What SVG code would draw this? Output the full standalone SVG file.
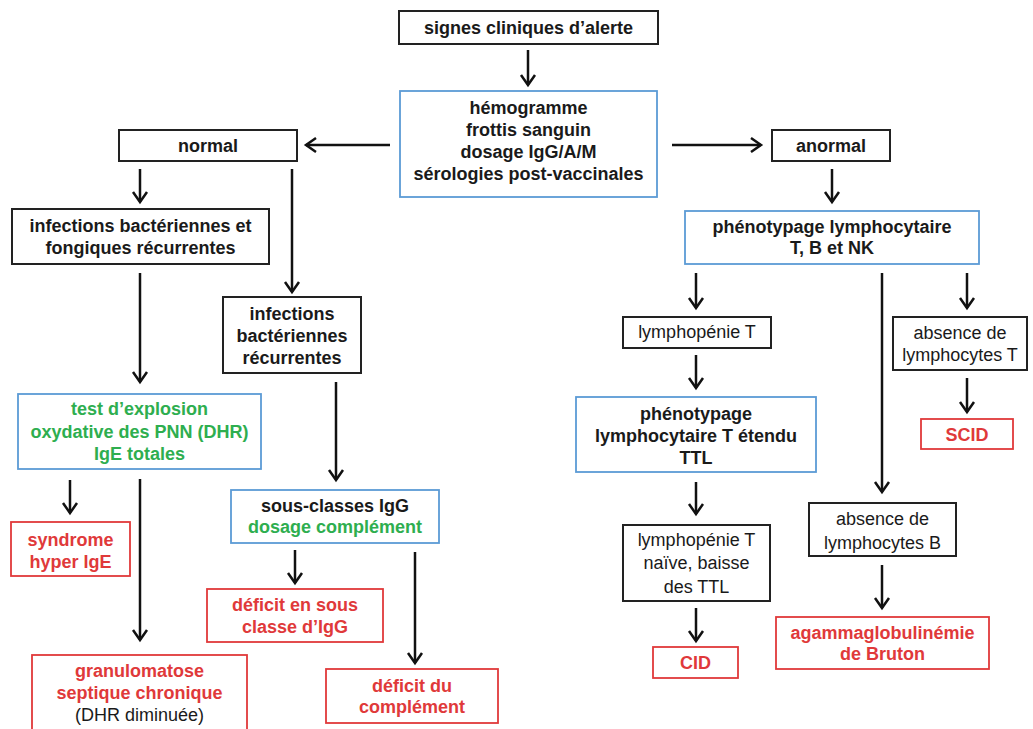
<svg xmlns="http://www.w3.org/2000/svg" width="1033" height="729" viewBox="0 0 1033 729">
<style>
.bk{fill:#fff;stroke:#222;stroke-width:2}
.bl{fill:#fff;stroke:#5b9bd5;stroke-width:1.8}
.rd{fill:#fff;stroke:#e0393a;stroke-width:1.8}
text{font-family:"Liberation Sans",Arial,sans-serif;font-size:18px;text-anchor:middle;fill:#1a1a1a}
.b{font-weight:bold}
.r{fill:#e0393a;font-weight:bold}
.g{fill:#2eae4f;font-weight:bold}
.c line{stroke:#111;stroke-width:2.5;marker-end:url(#ah)}
</style>
<defs>
<marker id="ah" markerUnits="userSpaceOnUse" markerWidth="20" markerHeight="20" refX="0" refY="0" viewBox="-12 -10 14 20" orient="auto" overflow="visible">
<path d="M-10,-7 L0,0 L-10,7" fill="none" stroke="#111" stroke-width="2.5"/>
</marker>
</defs>
<rect width="1033" height="729" fill="#fff"/>
<g class="c" id="connectors">
<line x1="528" y1="50" x2="528" y2="85"/>
<line x1="390" y1="145" x2="306" y2="145"/>
<line x1="672" y1="145" x2="761" y2="145"/>
<line x1="140" y1="169" x2="140" y2="202"/>
<line x1="292" y1="169" x2="292" y2="292"/>
<line x1="140" y1="273" x2="140" y2="382"/>
<line x1="336" y1="382" x2="336" y2="480"/>
<line x1="70" y1="480" x2="70" y2="513"/>
<line x1="140" y1="479" x2="140" y2="640"/>
<line x1="295" y1="550" x2="295" y2="583"/>
<line x1="415" y1="552" x2="415" y2="663"/>
<line x1="832" y1="169" x2="832" y2="202"/>
<line x1="696" y1="273" x2="696" y2="308"/>
<line x1="882" y1="273" x2="882" y2="492"/>
<line x1="967" y1="273" x2="967" y2="308"/>
<line x1="696" y1="355" x2="696" y2="388"/>
<line x1="696" y1="482" x2="696" y2="514"/>
<line x1="696" y1="608" x2="696" y2="641"/>
<line x1="967" y1="378" x2="967" y2="412"/>
<line x1="882" y1="565" x2="882" y2="608"/>
</g>
<g id="n-signes"><rect class="bk" x="399" y="11" width="259" height="33"/><text class="b" x="528.5" y="34">signes cliniques d’alerte</text></g>
<g id="n-hemogramme"><rect class="bl" x="400" y="91" width="257" height="106"/>
<text class="b" x="528.5" y="114">hémogramme</text><text class="b" x="528.5" y="136">frottis sanguin</text><text class="b" x="528.5" y="158">dosage IgG/A/M</text><text class="b" x="528.5" y="180">sérologies post-vaccinales</text></g>
<g id="n-normal"><rect class="bk" x="119" y="130" width="178" height="31"/><text class="b" x="208" y="152">normal</text></g>
<g id="n-anormal"><rect class="bk" x="772" y="130" width="118" height="31"/><text class="b" x="831" y="152">anormal</text></g>
<g id="n-infbf"><rect class="bk" x="12" y="209" width="257" height="55"/><text class="b" x="140.5" y="232">infections bactériennes et</text><text class="b" x="140.5" y="254">fongiques récurrentes</text></g>
<g id="n-infb"><rect class="bk" x="223" y="297" width="138" height="76"/><text class="b" x="292" y="320">infections</text><text class="b" x="292" y="342">bactériennes</text><text class="b" x="292" y="364">récurrentes</text></g>
<g id="n-test"><rect class="bl" x="18" y="394" width="243" height="75"/><text class="g" x="139.5" y="415">test d’explosion</text><text class="g" x="139.5" y="438">oxydative des PNN (DHR)</text><text class="g" x="139.5" y="460">IgE totales</text></g>
<g id="n-sousclasses"><rect class="bl" x="231" y="490" width="208" height="53"/><text class="b" x="335" y="512">sous-classes IgG</text><text class="g" x="335" y="533">dosage complément</text></g>
<g id="n-syndrome"><rect class="rd" x="11" y="522" width="119" height="54"/><text class="r" x="70.5" y="546">syndrome</text><text class="r" x="70.5" y="568">hyper IgE</text></g>
<g id="n-granulo"><rect class="rd" x="32" y="655" width="215" height="80"/><text class="r" x="139.5" y="677">granulomatose</text><text class="r" x="139.5" y="699">septique chronique</text><text x="139.5" y="721">(DHR diminuée)</text></g>
<g id="n-defsc"><rect class="rd" x="207" y="589" width="176" height="53"/><text class="r" x="295" y="611">déficit en sous</text><text class="r" x="295" y="633">classe d’IgG</text></g>
<g id="n-defcomp"><rect class="rd" x="326" y="669" width="172" height="54"/><text class="r" x="412" y="692">déficit du</text><text class="r" x="412" y="713">complément</text></g>
<g id="n-pheno"><rect class="bl" x="685" y="211" width="294" height="53"/><text class="b" x="832" y="233">phénotypage lymphocytaire</text><text class="b" x="832" y="254">T, B et NK</text></g>
<g id="n-lymphoT"><rect class="bk" x="623" y="317" width="148" height="31"/><text x="697" y="338">lymphopénie T</text></g>
<g id="n-phenoT"><rect class="bl" x="576" y="397" width="240" height="75"/><text class="b" x="696" y="420">phénotypage</text><text class="b" x="696" y="442">lymphocytaire T étendu</text><text class="b" x="696" y="464">TTL</text></g>
<g id="n-naive"><rect class="bk" x="623" y="525" width="147" height="76"/><text x="696.5" y="546">lymphopénie T</text><text x="696.5" y="569">naïve, baisse</text><text x="696.5" y="593">des TTL</text></g>
<g id="n-cid"><rect class="rd" x="653" y="647" width="85" height="31"/><text class="r" x="695.5" y="669">CID</text></g>
<g id="n-absT"><rect class="bk" x="893" y="317" width="134" height="53"/><text x="960" y="339">absence de</text><text x="960" y="361">lymphocytes T</text></g>
<g id="n-scid"><rect class="rd" x="921" y="419" width="92" height="30"/><text class="r" x="967" y="441">SCID</text></g>
<g id="n-absB"><rect class="bk" x="809" y="503" width="147" height="53"/><text x="882.5" y="525">absence de</text><text x="882.5" y="549">lymphocytes B</text></g>
<g id="n-agamma"><rect class="rd" x="776" y="617" width="213" height="52"/><text class="r" x="882.5" y="639">agammaglobulinémie</text><text class="r" x="882.5" y="660">de Bruton</text></g>
</svg>
